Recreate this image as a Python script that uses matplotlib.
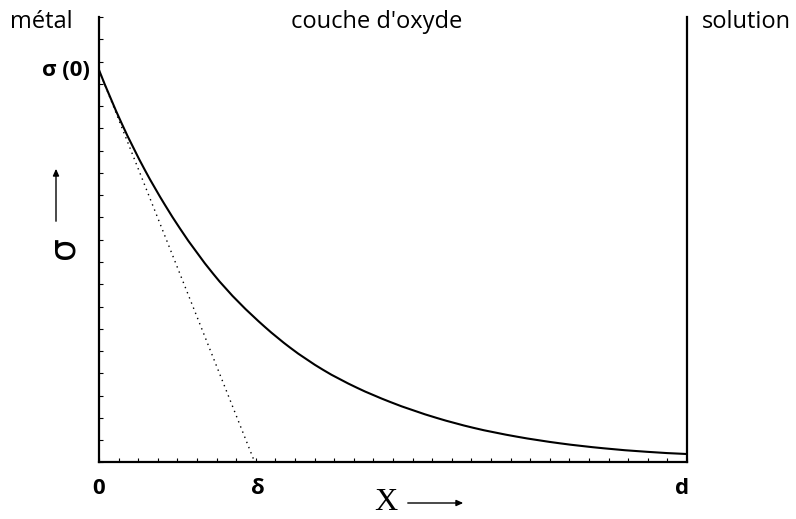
import numpy as np
import matplotlib
matplotlib.use("Agg")
import matplotlib.pyplot as plt
from matplotlib.path import Path
from matplotlib.patches import PathPatch, FancyArrowPatch
from matplotlib.ticker import MultipleLocator, NullFormatter

# profile along the oxide layer: x in units of d, sigma in axis units
x_pos = [0.0, 0.0386, 0.0782, 0.1122, 0.1378, 0.1939, 0.2823, 0.3248, 0.3810,
         0.4383, 0.4949, 0.5743, 0.6361, 0.7104, 0.7840, 0.8571, 0.9315, 1.0]
sigma = [0.881, 0.761, 0.656, 0.578, 0.525, 0.424, 0.304, 0.258, 0.208,
         0.168, 0.136, 0.100, 0.078, 0.058, 0.043, 0.032, 0.024, 0.019]

sigma0 = sigma[0]
delta = 0.265   # tangent at x = 0 meets the axis here


def smooth_path(xs, ys):
    # cubic Hermite pieces through the points, as Bezier segments
    xs = np.asarray(xs, float)
    ys = np.asarray(ys, float)
    m = np.gradient(ys, xs, edge_order=2)
    verts = [(xs[0], ys[0])]
    codes = [Path.MOVETO]
    for i in range(len(xs) - 1):
        h = xs[i + 1] - xs[i]
        verts += [(xs[i] + h / 3, ys[i] + m[i] * h / 3),
                  (xs[i + 1] - h / 3, ys[i + 1] - m[i + 1] * h / 3),
                  (xs[i + 1], ys[i + 1])]
        codes += [Path.CURVE4] * 3
    return Path(verts, codes)


fig = plt.figure(figsize=(7.96, 5.19), dpi=100)
ax = fig.add_axes([0.1244, 0.1089, 0.7387, 0.8583])

ax.add_patch(PathPatch(smooth_path(x_pos, sigma), fill=False,
                       edgecolor="black", lw=1.5))
ax.plot([0, delta], [sigma0, 0], color="black", lw=1.0, linestyle=(0, (1, 3)))

ax.set_xlim(0, 1)
ax.set_ylim(0, 1)
ax.spines["top"].set_visible(False)
for s in ("left", "bottom", "right"):
    ax.spines[s].set_linewidth(1.6)

ax.xaxis.set_major_locator(MultipleLocator(1 / 30))
ax.yaxis.set_major_locator(MultipleLocator(1 / 20))
ax.xaxis.set_major_formatter(NullFormatter())
ax.yaxis.set_major_formatter(NullFormatter())
ax.tick_params(direction="in", length=3, width=0.8, right=False, top=False)

sans = ["Open Sans", "DejaVu Sans"]
ax.text(-0.016, sigma0, "σ (0)", ha="right", va="center", fontsize=16,
        fontweight="bold", family=sans)
ax.text(0, -0.035, "0", ha="center", va="top", fontsize=16, family=sans,
        fontweight="bold")
ax.text(delta + 0.005, -0.035, "δ", ha="center", va="top", fontsize=16,
        family=sans, fontweight="bold")
ax.text(0.992, -0.035, "d", ha="center", va="top", fontsize=16, family=sans,
        fontweight="bold")

fig.text(10 / 796, 1 - 22 / 519, "métal", ha="left", va="center",
         fontsize=17, family=sans)
fig.text(377 / 796, 1 - 22 / 519, "couche d'oxyde", ha="center",
         va="center", fontsize=17, family=sans)
fig.text(702 / 796, 1 - 22 / 519, "solution", ha="left", va="center",
         fontsize=17, family=sans)

# axis names with arrows
fig.text(63 / 796, 1 - 248 / 519, "σ", rotation=90, ha="center",
         va="center", fontsize=26, family="DejaVu Sans")
fig.add_artist(FancyArrowPatch(
    (56 / 796, 1 - 224 / 519), (56 / 796, 1 - 166 / 519),
    transform=fig.transFigure, arrowstyle="-|>,head_length=4,head_width=1.8",
    color="black", lw=1.0))
fig.text(386 / 796, 1 - 502 / 519, "X", ha="center", va="center",
         fontsize=23, family="Liberation Serif")
fig.add_artist(FancyArrowPatch(
    (405 / 796, 1 - 503 / 519), (466 / 796, 1 - 503 / 519),
    transform=fig.transFigure, arrowstyle="-|>,head_length=4,head_width=1.8",
    color="black", lw=1.0))

fig.savefig("out.png", dpi=100)
